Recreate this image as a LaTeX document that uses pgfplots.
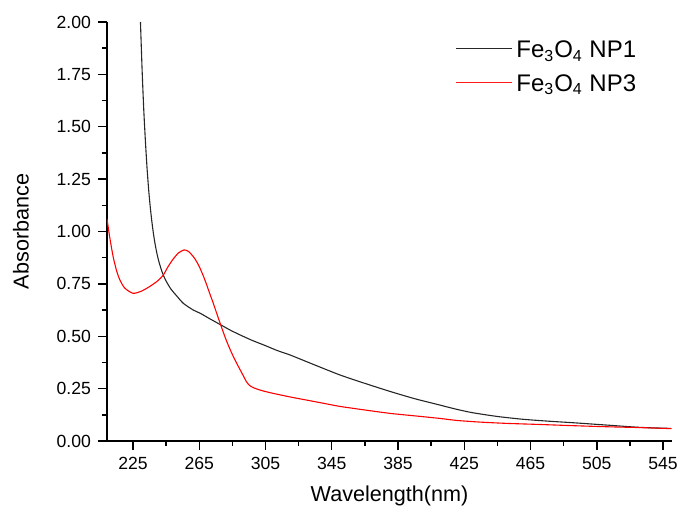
\documentclass[border=0pt]{standalone}
\usepackage{pgfplots}
\pgfplotsset{compat=1.18}
\usepackage{fontspec}
\setmainfont{Liberation Sans}
\begin{document}
\begin{tikzpicture}
\begin{axis}[
    scale only axis,
    width=282.5pt,
    height=209.5pt,
    xmin=209.3, xmax=550.4,
    ymin=0, ymax=2,
    axis lines*=left,
    axis line style={line width=0.75pt},
    xtick={225,265,...,545},
    ytick={0,0.25,...,2.0},
    minor x tick num=1,
    minor y tick num=1,
    tick align=outside,
    major tick length=4.5pt,
    minor tick length=2.5pt,
    tick style={line width=0.7pt, black},
    /pgf/number format/assume math mode=true,
    yticklabel style={/pgf/number format/.cd, fixed, fixed zerofill, precision=2},
    xticklabel style={/pgf/number format/.cd, set thousands separator={}},
    ticklabel style={font=\fontsize{8.8}{10}\selectfont},
    xlabel={Wavelength(nm)},
    ylabel={Absorbance},
    label style={font=\fontsize{10.8}{12}\selectfont},
    xlabel style={yshift=-1.5pt},
    ylabel style={yshift=7pt},
    legend style={at={(0.955,0.975)}, anchor=north east, draw=none, fill=none,
        font=\fontsize{12}{14}\selectfont, row sep=3pt},
    legend cell align=left,
    legend image code/.code={\draw[#1] (0pt,1pt) -- (28pt,1pt);},
]
\addlegendimage{black!85, line width=0.6pt}
\addlegendentry{Fe\textsubscript{3}O\textsubscript{4} NP1}
\addlegendimage{red!90!white, line width=0.6pt}
\addlegendentry{Fe\textsubscript{3}O\textsubscript{4} NP3}
% NP1
\addplot[black!85, line width=0.55pt, smooth, tension=0.4, forget plot] coordinates {
(229.5,2.0) (230.5,1.77) (231.5,1.58) (232.5,1.43) (233.5,1.30) (234.5,1.195)
(235.5,1.11) (236.5,1.04) (237.5,0.981) (238.5,0.933) (239.5,0.893) (240.5,0.86)
(242,0.82) (243.5,0.788) (245.5,0.756) (248,0.724) (251,0.696) (255.4,0.657)
(261.4,0.625) (265.5,0.61) (271,0.585) (277.6,0.556) (284,0.528) (290,0.505)
(297,0.48) (305,0.455) (312,0.432) (320,0.41) (335,0.362) (350,0.315)
(365,0.275) (380,0.237) (395,0.202) (410,0.172) (420,0.152) (430,0.135)
(445,0.117) (460,0.104) (475,0.095) (491,0.087) (511,0.076) (531,0.065)
(550,0.06)
};
% NP3
\addplot[red, line width=0.55pt, smooth, tension=0.4, forget plot] coordinates {
(209.3,1.06) (211,0.97) (213,0.88) (215,0.815) (217,0.77) (220,0.73)
(225,0.705) (230,0.715) (235,0.737) (240,0.765) (243.3,0.792) (246,0.83)
(249.4,0.87) (252.5,0.898) (255.8,0.912) (258.5,0.905) (261.4,0.88) (263.5,0.855)
(265.5,0.824) (267.5,0.787) (269.5,0.745) (271.5,0.70) (273.5,0.657) (275.5,0.61)
(277.6,0.562) (281,0.487) (284,0.43) (287,0.38) (290,0.335) (292,0.305)
(293.5,0.283) (295,0.268) (297,0.257) (299.5,0.249) (303,0.240) (306,0.234)
(309.8,0.227) (320,0.21) (330,0.195) (340,0.18) (350,0.165) (365,0.148)
(380,0.132) (395,0.12) (410,0.108) (420.6,0.098) (435,0.09) (450.8,0.084)
(470,0.079) (491,0.073) (511,0.068) (531,0.064) (550,0.059)
};
\end{axis}
\pgfresetboundingbox
\path[use as bounding box] ([xshift=-53.5pt,yshift=-33pt]current axis.south west) rectangle ([xshift=4pt,yshift=11pt]current axis.north east);
\end{tikzpicture}
\end{document}
